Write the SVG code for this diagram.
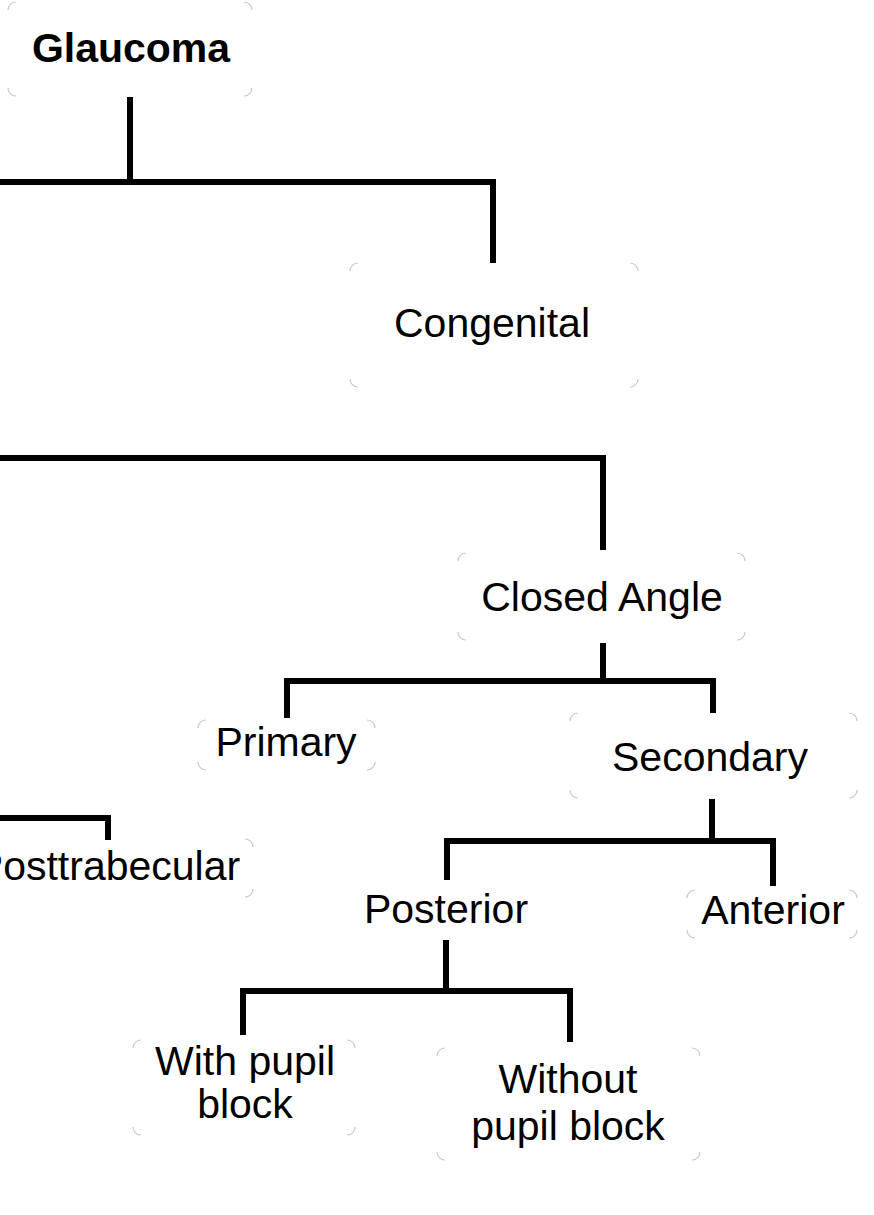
<svg xmlns="http://www.w3.org/2000/svg" width="874" height="1215" viewBox="0 0 874 1215">
<style>
.bg{fill:#ffffff}
.t{font-family:"Liberation Sans",Arial,sans-serif;font-size:41px;fill:#000;text-anchor:middle}
.b{font-weight:bold}
.c{fill:none;stroke:#c8c8c8;stroke-width:1.2}
.e{fill:none;stroke:#000;stroke-width:6;stroke-linejoin:miter;stroke-linecap:butt}
</style>
<rect class="bg" x="0" y="0" width="874" height="1215"/>
<g id="connectors">
<path class="e" d="M130,97 V182 M0,182 H493 V263"/>
<path class="e" d="M0,458 H603 V550"/>
<path class="e" d="M603,643 V681 M287,718 V681 H713 V713"/>
<path class="e" d="M0,818 H108 V840"/>
<path class="e" d="M712,799 V841 M447,880 V841 H773 V886"/>
<path class="e" d="M446,940 V991 M243,1035 V991 H570 V1042"/>
</g>
<g id="glaucoma">
<path class="c" d="M8,10 A8,8 0 0 1 16,2 M244,2 A8,8 0 0 1 252,10 M252,88 A8,8 0 0 1 244,96 M16,96 A8,8 0 0 1 8,88"/>
<text class="t b" x="131" y="62">Glaucoma</text>
</g>
<g id="congenital">
<path class="c" d="M350,271 A8,8 0 0 1 358,263 M630,263 A8,8 0 0 1 638,271 M638,379 A8,8 0 0 1 630,387 M358,387 A8,8 0 0 1 350,379"/>
<text class="t" x="492" y="337">Congenital</text>
</g>
<g id="closed-angle">
<path class="c" d="M458,561 A8,8 0 0 1 466,553 M737,553 A8,8 0 0 1 745,561 M745,632 A8,8 0 0 1 737,640 M466,640 A8,8 0 0 1 458,632"/>
<text class="t" x="602" y="611">Closed Angle</text>
</g>
<g id="primary">
<path class="c" d="M198,728 A8,8 0 0 1 206,720 M367,720 A8,8 0 0 1 375,728 M375,762 A8,8 0 0 1 367,770 M206,770 A8,8 0 0 1 198,762"/>
<text class="t" x="286" y="756">Primary</text>
</g>
<g id="secondary">
<path class="c" d="M570,721 A8,8 0 0 1 578,713 M849,713 A8,8 0 0 1 857,721 M857,790 A8,8 0 0 1 849,798 M578,798 A8,8 0 0 1 570,790"/>
<text class="t" x="710" y="771">Secondary</text>
</g>
<g id="posttrabecular">
<path class="c" d="M245,839 A8,8 0 0 1 253,847 M253,889 A8,8 0 0 1 245,897"/>
<text class="t" x="108" y="880">Posttrabecular</text>
</g>
<g id="posterior">
<text class="t" x="446" y="923">Posterior</text>
</g>
<g id="anterior">
<path class="c" d="M687,898 A8,8 0 0 1 695,890 M849,890 A8,8 0 0 1 857,898 M857,930 A8,8 0 0 1 849,938 M695,938 A8,8 0 0 1 687,930"/>
<text class="t" x="773" y="924">Anterior</text>
</g>
<g id="with-pupil-block">
<path class="c" d="M133,1048 A8,8 0 0 1 141,1040 M347,1040 A8,8 0 0 1 355,1048 M355,1127 A8,8 0 0 1 347,1135 M141,1135 A8,8 0 0 1 133,1127"/>
<text class="t" x="245" y="1075">With pupil</text>
<text class="t" x="245" y="1118">block</text>
</g>
<g id="without-pupil-block">
<path class="c" d="M437,1056 A8,8 0 0 1 445,1048 M692,1048 A8,8 0 0 1 700,1056 M700,1152 A8,8 0 0 1 692,1160 M445,1160 A8,8 0 0 1 437,1152"/>
<text class="t" x="568" y="1093">Without</text>
<text class="t" x="568" y="1140">pupil block</text>
</g>
</svg>
